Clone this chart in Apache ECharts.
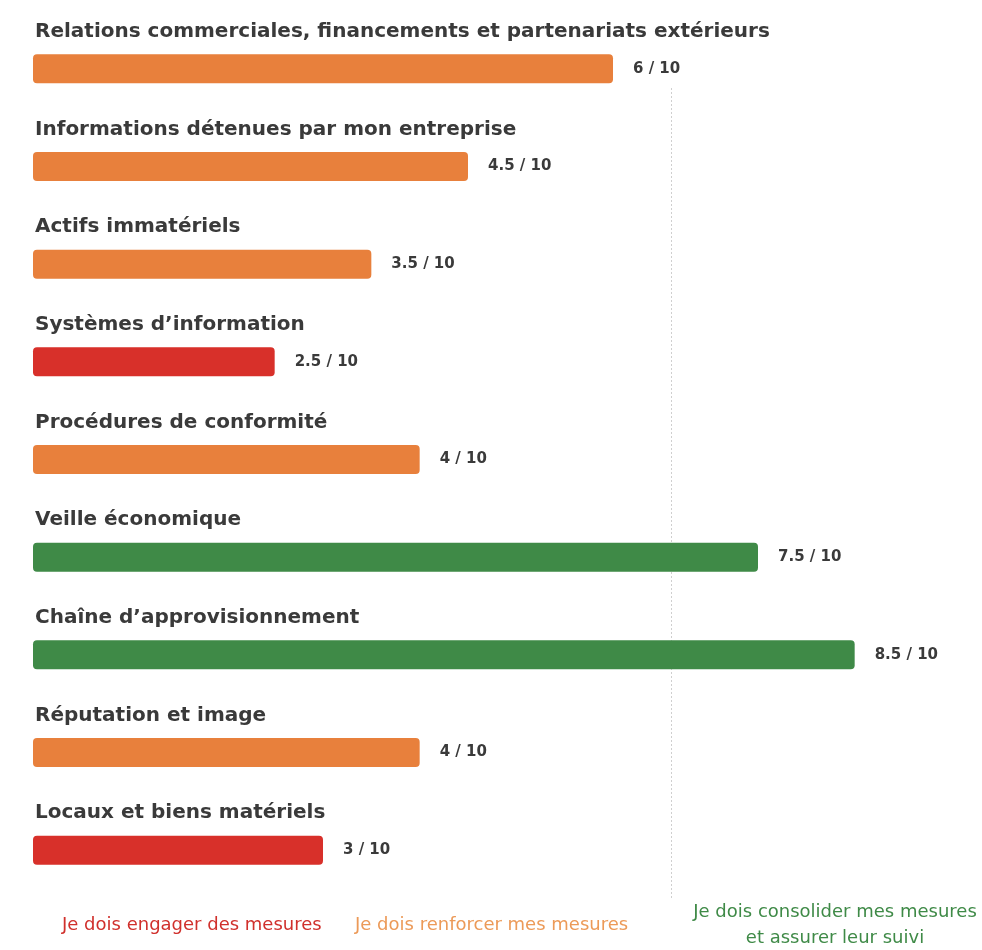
<!DOCTYPE html>
<html><head><meta charset="utf-8">
<script src="https://cdn.jsdelivr.net/npm/echarts@6/dist/echarts.min.js"></script>
<style>html,body{margin:0;padding:0;background:#fff}#c{width:982px;height:950px}</style>
</head><body><div id="c"></div>
<script>
const categories = [
  "Relations commerciales, financements et partenariats extérieurs",
  "Informations détenues par mon entreprise",
  "Actifs immatériels",
  "Systèmes d’information",
  "Procédures de conformité",
  "Veille économique",
  "Chaîne d’approvisionnement",
  "Réputation et image",
  "Locaux et biens matériels"
];
const scores = [6, 4.5, 3.5, 2.5, 4, 7.5, 8.5, 4, 3];
const levels = ["renforcer","renforcer","renforcer","engager","renforcer","consolider","consolider","renforcer","engager"];
const levelColors = {engager: "#D8302A", renforcer: "#E8803C", consolider: "#3F8A47"};
const thresholdValue = 6.6;
const legendTexts = {
  engager: "Je dois engager des mesures",
  renforcer: "Je dois renforcer mes mesures",
  consolider: "Je dois consolider mes mesures\net assurer leur suivi"
};

const legendFont = '18px "DejaVu Sans", sans-serif';
const chart = echarts.init(document.getElementById('c'));
chart.setOption({
  backgroundColor: '#fff',
  animation: false,
  grid: {left: 33, right: 79, top: 20, bottom: 51},
  xAxis: {type: 'value', min: 0, max: 9, show: false},
  yAxis: {
    type: 'category', inverse: true, data: categories,
    axisLine: {show: false}, axisTick: {show: false},
    axisLabel: {
      inside: true, margin: 2, align: 'left', verticalAlign: 'bottom',
      padding: [0, 0, 27, 0],
      fontFamily: 'DejaVu Sans', fontWeight: 'bold', fontSize: 20, color: '#3a3a3a'
    }
  },
  series: [{
    type: 'bar', barWidth: 29, z: 3,
    data: scores.map((v, i) => ({value: v, itemStyle: {color: levelColors[levels[i]]}})),
    itemStyle: {borderRadius: 4},
    label: {
      show: true, position: 'right', distance: 20,
      formatter: p => p.value + ' / 10',
      fontFamily: 'DejaVu Sans', fontWeight: 'bold', fontSize: 15, color: '#3a3a3a'
    },
    markLine: {
      silent: true, symbol: 'none', label: {show: false}, z: 1,
      lineStyle: {color: '#cfcfcf', type: [2, 2], width: 1},
      data: [[{xAxis: thresholdValue, y: 88}, {xAxis: thresholdValue, y: 900}]]
    }
  }],
  graphic: [
    {type: 'text', x: 62, y: 925, style: {text: legendTexts.engager, fill: '#D0302C', verticalAlign: 'middle', font: legendFont}},
    {type: 'text', x: 355, y: 925, style: {text: legendTexts.renforcer, fill: '#EC9A58', verticalAlign: 'middle', font: legendFont}},
    {type: 'text', x: 835, y: 899, style: {text: legendTexts.consolider, fill: '#3F8A47', align: 'center', lineHeight: 26, font: legendFont}}
  ]
});
</script></body></html>
